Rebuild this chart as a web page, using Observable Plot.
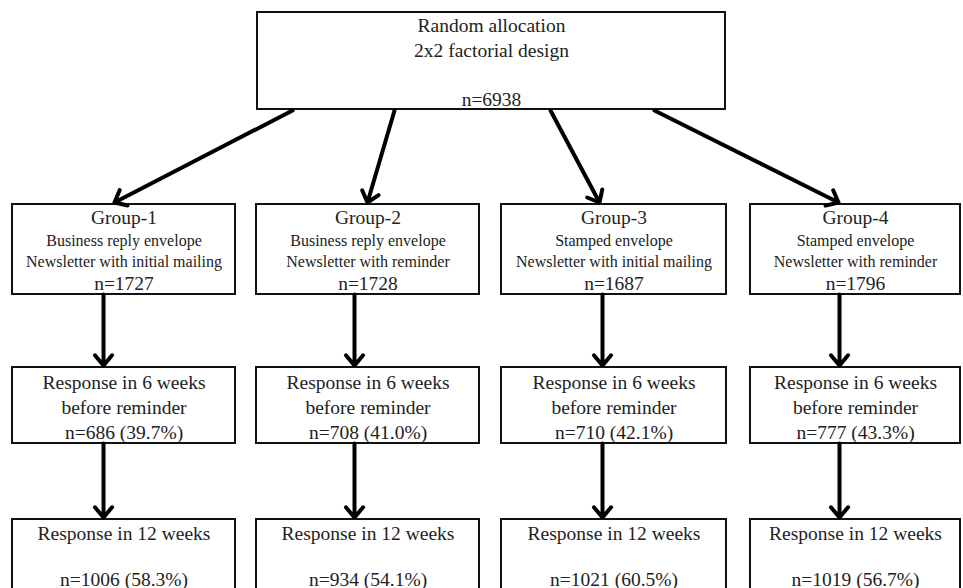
<!DOCTYPE html>
<html>
<head>
<meta charset="utf-8">
<script src="https://cdn.jsdelivr.net/npm/d3@7"></script>
<script src="https://cdn.jsdelivr.net/npm/@observablehq/plot@0.6"></script>
<style>
  html, body { margin: 0; padding: 0; background: #fff; overflow: hidden; }
  svg text { font-family: "Liberation Serif", "Times New Roman", serif; }
</style>
</head>
<body>
<div id="chart"></div>
<script>
// ---- data ----
const topLines = ["Random allocation", "2x2 factorial design", "n=6938"];
const groups = ["Group-1", "Group-2", "Group-3", "Group-4"];
const envelopes = ["Business reply envelope", "Business reply envelope", "Stamped envelope", "Stamped envelope"];
const newsletters = ["Newsletter with initial mailing", "Newsletter with reminder", "Newsletter with initial mailing", "Newsletter with reminder"];
const groupN = [1727, 1728, 1687, 1796];
const resp6N = [686, 708, 710, 777];
const resp6Pct = ["39.7", "41.0", "42.1", "43.3"];
const resp12N = [1006, 934, 1021, 1019];
const resp12Pct = ["58.3", "54.1", "60.5", "56.7"];

// ---- layout ----
const W = 963, H = 588;
const colX1 = [12, 256, 501, 750];
const colX2 = [235, 479, 726, 960];
const colArrowX = [103, 354, 602, 839];
const diagStartX = [292, 394, 550, 654];
const diagEndX = [114, 367, 599, 838];
const topBox = {x1: 257, x2: 725, y1: 12, y2: 109};
const rowY = [[204, 294], [367, 443], [519, 620]];

const boxes = [topBox];
colX1.forEach((x1, i) => {
  rowY.forEach(([y1, y2]) => boxes.push({x1, x2: colX2[i], y1, y2}));
});

const cx = i => (colX1[i] + colX2[i]) / 2;
const big = 19.5, small = 16;
const texts = [];
const topCx = (topBox.x1 + topBox.x2) / 2;
texts.push({x: topCx, y: 25, t: topLines[0], s: big});
texts.push({x: topCx, y: 50, t: topLines[1], s: big});
texts.push({x: topCx, y: 99, t: topLines[2], s: big});
groups.forEach((g, i) => {
  texts.push({x: cx(i), y: 217, t: g, s: big});
  texts.push({x: cx(i), y: 240, t: envelopes[i], s: small});
  texts.push({x: cx(i), y: 261, t: newsletters[i], s: small});
  texts.push({x: cx(i), y: 283, t: `n=${groupN[i]}`, s: big});
  texts.push({x: cx(i), y: 382, t: "Response in 6 weeks", s: big});
  texts.push({x: cx(i), y: 407, t: "before reminder", s: big});
  texts.push({x: cx(i), y: 432, t: `n=${resp6N[i]} (${resp6Pct[i]}%)`, s: big});
  texts.push({x: cx(i), y: 533, t: "Response in 12 weeks", s: big});
  texts.push({x: cx(i), y: 579, t: `n=${resp12N[i]} (${resp12Pct[i]}%)`, s: big});
});

const arrows = [];
groups.forEach((g, i) => {
  arrows.push({x1: diagStartX[i], y1: topBox.y2 + 1, x2: diagEndX[i], y2: rowY[0][0] - 2});
  arrows.push({x1: colArrowX[i], y1: rowY[0][1], x2: colArrowX[i], y2: rowY[1][0] - 2});
  arrows.push({x1: colArrowX[i], y1: rowY[1][1], x2: colArrowX[i], y2: rowY[2][0] - 2});
});

const chart = Plot.plot({
  width: W,
  height: H,
  margin: 0,
  x: {domain: [0, W], range: [0, W], axis: null},
  y: {domain: [0, H], range: [0, H], axis: null},
  style: {background: "#fff", fontFamily: "'Liberation Serif', 'Times New Roman', serif"},
  marks: [
    Plot.rect(boxes, {x1: "x1", x2: "x2", y1: "y1", y2: "y2", fill: "#fff", stroke: "#111", strokeWidth: 2}),
    Plot.arrow(arrows, {x1: "x1", y1: "y1", x2: "x2", y2: "y2", stroke: "#000", strokeWidth: 4, headLength: 5, headAngle: 80}),
    Plot.text(texts, {x: "x", y: "y", text: "t", fontSize: d => d.s, fill: "#222", fontFamily: "'Liberation Serif', 'Times New Roman', serif", textAnchor: "middle", lineAnchor: "middle"})
  ]
});
document.getElementById("chart").appendChild(chart);
</script>
</body>
</html>
